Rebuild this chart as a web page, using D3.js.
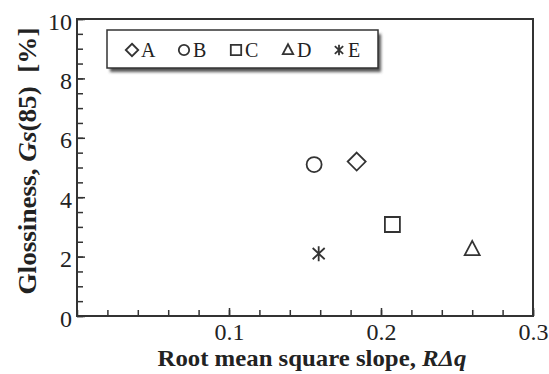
<!DOCTYPE html>
<html>
<head>
<meta charset="utf-8">
<script src="https://cdn.jsdelivr.net/npm/d3@7"></script>
<style>
  body { margin: 0; background: #fff; }
  svg { display: block; }
  text { font-family: "Liberation Serif", "Times New Roman", serif; fill: #222; }
</style>
</head>
<body>
<svg id="chart"></svg>
<script>
const WIDTH = 549
const HEIGHT = 374

// data
const SAMPLES = ["A", "B", "C", "D", "E"]
const SHAPES = ["diamond", "circle", "square", "triangle", "star"]
const SLOPE = [0.184, 0.156, 0.2075, 0.260, 0.159]
const GLOSS = [5.2, 5.1, 3.08, 2.25, 2.1]

const X_TICKS = [0.1, 0.2, 0.3]
const Y_TICKS = [0, 2, 4, 6, 8, 10]

const margin = { left: 77, right: 16, top: 19, bottom: 58 }
const ink = "#333"
const serif = '"Liberation Serif", "Times New Roman", serif'

let svg = d3.select("#chart")
  .attr("width", WIDTH)
  .attr("height", HEIGHT)

let defs = svg.append("defs")
let blur = defs.append("filter")
  .attr("id", "shadow")
  .attr("x", "-10%").attr("y", "-30%")
  .attr("width", "130%").attr("height", "180%")
blur.append("feGaussianBlur").attr("stdDeviation", 1.8)

let x = d3.scaleLinear()
  .domain([0, 0.3])
  .range([margin.left, WIDTH - margin.right])

let y = d3.scaleLinear()
  .domain([0, 10])
  .range([HEIGHT - margin.bottom, margin.top])

// minor ticks
let xMinor = d3.range(0, 0.3001, 0.02)
let yMinor = d3.range(0, 10.001, 0.5)

svg.append("g")
  .attr("transform", `translate(0, ${y(0)})`)
  .call(d3.axisBottom(x).tickValues(xMinor).tickSize(-6).tickFormat(""))
  .call(g => g.select(".domain").remove())
  .call(g => g.selectAll("line").attr("stroke", ink).attr("stroke-width", 1.5))

svg.append("g")
  .attr("transform", `translate(${x(0)}, 0)`)
  .call(d3.axisLeft(y).tickValues(yMinor).tickSize(-6).tickFormat(""))
  .call(g => g.select(".domain").remove())
  .call(g => g.selectAll("line").attr("stroke", ink).attr("stroke-width", 1.5))

// major ticks + labels
let xAxis = svg.append("g")
  .attr("transform", `translate(0, ${y(0)})`)
  .call(d3.axisBottom(x).tickValues(X_TICKS).tickSize(-8).tickPadding(7).tickFormat(d3.format(".1f")))
xAxis.attr("font-family", serif).attr("font-size", 24)
xAxis.select(".domain").remove()
xAxis.selectAll("line").attr("stroke", ink).attr("stroke-width", 1.5)
xAxis.selectAll("text").attr("fill", "#222")

let yAxis = svg.append("g")
  .attr("transform", `translate(${x(0)}, 0)`)
  .call(d3.axisLeft(y).tickValues(Y_TICKS).tickSize(-8).tickPadding(5).tickFormat(d3.format("d")))
yAxis.attr("font-family", serif).attr("font-size", 24)
yAxis.select(".domain").remove()
yAxis.selectAll("line").attr("stroke", ink).attr("stroke-width", 1.5)
yAxis.selectAll("text").attr("fill", "#222").attr("dy", "0.42em")

// frame
svg.append("rect")
  .attr("x", x(0))
  .attr("y", y(10))
  .attr("width", x(0.3) - x(0))
  .attr("height", y(0) - y(10))
  .attr("fill", "none")
  .attr("stroke", ink)
  .attr("stroke-width", 2)

// axis titles (stretched a little, like the original)
let xTitle = svg.append("text")
  .attr("x", 312)
  .attr("y", 366)
  .attr("text-anchor", "middle")
  .attr("textLength", 309)
  .attr("lengthAdjust", "spacingAndGlyphs")
  .style("font-size", "24px")
  .style("font-weight", "bold")
xTitle.append("tspan").text("Root mean square slope, ")
xTitle.append("tspan").style("font-style", "italic").text("RΔq")

let yTitle = svg.append("text")
  .attr("transform", "translate(36, 161) rotate(-90)")
  .attr("text-anchor", "middle")
  .attr("textLength", 267)
  .attr("lengthAdjust", "spacingAndGlyphs")
  .style("font-size", "25px")
  .style("font-weight", "bold")
yTitle.append("tspan").text("Glossiness, ")
yTitle.append("tspan").style("font-style", "italic").text("Gs")
yTitle.append("tspan").text("(85)\u00a0\u00a0[%]")

// marker drawing
function drawMarker(g, shape, cx, cy, s) {
  let m = g.append("path")
    .attr("fill", "none")
    .attr("stroke", ink)
    .attr("stroke-width", 1.8)
    .attr("stroke-linejoin", "miter")
  let p = d3.path()
  if (shape == "diamond") {
    p.moveTo(cx, cy - s * 1.2); p.lineTo(cx + s * 1.2, cy)
    p.lineTo(cx, cy + s * 1.2); p.lineTo(cx - s * 1.2, cy); p.closePath()
  } else if (shape == "circle") {
    p.arc(cx, cy, s, 0, 2 * Math.PI)
  } else if (shape == "square") {
    p.rect(cx - s, cy - s, 2 * s, 2 * s)
  } else if (shape == "triangle") {
    p.moveTo(cx, cy - s * 1.1); p.lineTo(cx + s, cy + s * 0.8)
    p.lineTo(cx - s, cy + s * 0.8); p.closePath()
  } else if (shape == "star") {
    p.moveTo(cx, cy - s); p.lineTo(cx, cy + s)
    p.moveTo(cx - s * 0.8, cy - s * 0.75); p.lineTo(cx + s * 0.8, cy + s * 0.75)
    p.moveTo(cx + s * 0.8, cy - s * 0.75); p.lineTo(cx - s * 0.8, cy + s * 0.75)
  }
  m.attr("d", p.toString())
}

let points = svg.append("g")
SAMPLES.forEach((name, i) => {
  drawMarker(points, SHAPES[i], x(SLOPE[i]), y(GLOSS[i]), 7.5)
})

// legend
let legend = svg.append("g").attr("transform", "translate(107, 30)")
legend.append("rect")
  .attr("x", 3).attr("y", 4)
  .attr("width", 271).attr("height", 38)
  .attr("fill", "#555")
  .attr("filter", "url(#shadow)")
legend.append("rect")
  .attr("width", 271).attr("height", 38)
  .attr("fill", "#fff")
  .attr("stroke", ink)
  .attr("stroke-width", 1.5)

let legendX = [25, 77, 129, 181, 232]
SAMPLES.forEach((name, i) => {
  drawMarker(legend, SHAPES[i], legendX[i], 20, 5.2)
  legend.append("text")
    .attr("x", legendX[i] + 9)
    .attr("y", 27)
    .style("font-size", "20px")
    .text(name)
})
</script>
</body>
</html>
